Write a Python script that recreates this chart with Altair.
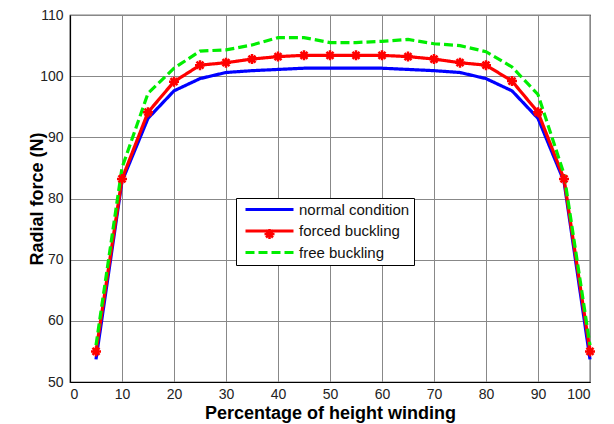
import altair as alt
import pandas as pd

x_vals = [5, 10, 15, 20, 25, 30, 35, 40, 45, 50, 55, 60, 65, 70, 75, 80, 85, 90, 95, 100]
normal = [53.7, 82.8, 93.1, 97.6, 99.6, 100.6, 100.9, 101.1, 101.3, 101.3,
          101.3, 101.3, 101.1, 100.9, 100.6, 99.6, 97.6, 93.1, 82.8, 53.7]
forced = [55.0, 83.2, 94.1, 99.1, 101.8, 102.2, 102.8, 103.2, 103.4, 103.4,
          103.4, 103.4, 103.2, 102.8, 102.2, 101.8, 99.2, 94.1, 83.2, 55.0]
free = [56.0, 85.0, 97.2, 101.3, 104.1, 104.3, 105.1, 106.3, 106.3, 105.5,
        105.5, 105.7, 106.0, 105.3, 105.0, 104.0, 101.5, 97.0, 84.0, 56.0]
series = ["normal condition", "forced buckling", "free buckling"]
colors = ["#0000FF", "#FF0000", "#00EE00"]
x_ticks = list(range(0, 101, 10))
y_ticks = list(range(50, 111, 10))

rows = []
for name, vals in zip(series, [normal, forced, free]):
    for xv, yv in zip(x_vals, vals):
        rows.append({"x": xv, "y": yv, "series": name, "series2": name,
                     "ord": series.index(name)})
df = pd.DataFrame(rows)

xenc = alt.X("x:Q", scale=alt.Scale(domain=[0, 100], nice=False),
             axis=alt.Axis(values=x_ticks, title="Percentage of height winding"))
yenc = alt.Y("y:Q", scale=alt.Scale(domain=[50, 110], nice=False, zero=False),
             axis=alt.Axis(values=y_ticks, title="Radial force (N)"))

LEG_X, LEG_Y = 166, 183
common_leg = dict(title=None, orient="none", legendX=LEG_X, legendY=LEG_Y,
                  labelFontSize=15, labelFont="Liberation Sans", padding=4,
                  rowPadding=5.5, symbolOffset=22, labelOffset=22)

lines = alt.Chart(df).mark_line(strokeWidth=3.2).encode(
    x=xenc, y=yenc,
    color=alt.Color("series:N", scale=alt.Scale(domain=series, range=colors),
                    sort=series,
                    legend=alt.Legend(symbolType="M-4.8,0L4.8,0", symbolSize=100,
                                      symbolStrokeWidth=3.2, labelColor="#111",
                                      strokeColor="black", fillColor="white",
                                      **common_leg)),
    strokeDash=alt.StrokeDash("series:N", scale=alt.Scale(domain=series, range=[[1, 0], [1, 0], [9, 4]]),
                              sort=series, legend=None),
    order=alt.Order("ord:Q"),
)

star = "M-1,0L1,0M0,-1L0,1M-0.7,-0.7L0.7,0.7M-0.7,0.7L0.7,-0.7"
blank = "M0,0L0,0"
points = alt.Chart(df[df["series"] == "forced buckling"]).mark_point(
    size=100, filled=False, color="#FF0000", strokeWidth=2.5, opacity=1
).encode(
    x=xenc, y=yenc,
    shape=alt.Shape("series2:N",
                    scale=alt.Scale(domain=series + ["~"], range=[blank, star, blank, blank]),
                    legend=alt.Legend(values=series, labelExpr="' '", symbolStrokeWidth=2.5,
                                      symbolSize=100, zindex=1, **common_leg)),
)

chart = alt.layer(lines, points).properties(
    width=520, height=367,
    autosize=alt.AutoSizeParams(type="none"),
    padding={"left": 62, "top": 7, "right": 16, "bottom": 44},
).configure_view(stroke="black", strokeWidth=1.2).configure_axis(
    grid=True, gridColor="#888", gridWidth=1, ticks=False,
    domainColor="black", domainWidth=1.2,
    labelFont="Liberation Sans", labelFontSize=14, labelColor="#222",
    titleFont="Liberation Sans", titleFontSize=18, titleFontWeight="bold", titleColor="black",
).configure_axisX(labelPadding=5, titlePadding=3).configure_axisY(labelPadding=7, titlePadding=-7)

chart.save("out.html", embed_options={"renderer": "svg", "actions": False})
